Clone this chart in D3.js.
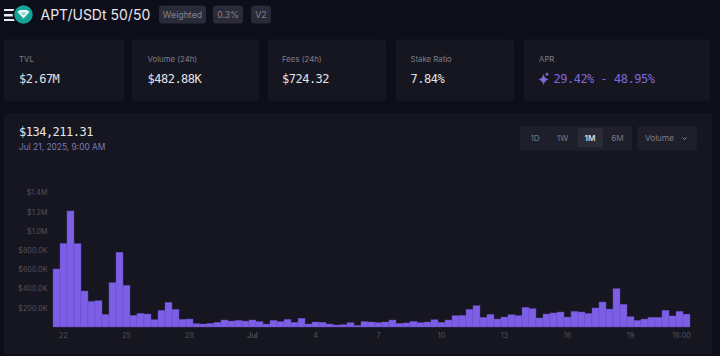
<!DOCTYPE html>
<html>
<head>
<meta charset="utf-8">
<script src="https://cdn.jsdelivr.net/npm/d3@7"></script>
<style>
html, body { margin: 0; padding: 0; background: #0e0e1a; overflow: hidden; }
text { font-family: Inter, "Noto Sans", sans-serif; }
.mono { font-family: "DejaVu Sans Mono", monospace; letter-spacing: -0.5px; }
.y-axis path, .y-axis line, .x-axis path, .x-axis line { display: none; }
.y-axis text, .x-axis text { font-family: Inter, sans-serif; font-size: 7.2px; fill: #52525e; }
</style>
</head>
<body>
<div id="chart"></div>
<script>
// volume per 8h bar, in $K
var volumes = [604, 871, 1208, 868, 375, 267, 274, 132, 461, 778, 434, 121, 142, 135, 76, 174, 257, 184, 80, 83, 35, 31, 38, 49, 73, 62, 69,
    62, 73, 56, 31, 69, 56, 80, 49, 90, 31, 52, 49, 31, 21, 24, 45, 17, 56, 52, 45, 52, 73, 38, 42, 59, 45, 52, 76, 49, 73, 118, 121, 184, 222,
    101, 132, 83, 104, 128, 118, 205, 191, 94, 135, 146, 156, 104, 163, 156, 142, 198, 260, 187, 399, 236, 108, 69, 83, 101, 101, 174, 115, 163, 134];
var xTickBars = [1, 10, 19, 28, 37, 46, 55, 64, 73, 82, 90];
var xTickLabels = ["22", "25", "28", "Jul", "4", "7", "10", "13", "16", "19", "16:00"];
var yTicks = [200, 400, 600, 800, 1000, 1200, 1400];

var badges = ["Weighted", "0.3%", "V2"];
var statLabels = ["TVL", "Volume (24h)", "Fees (24h)", "Stake Ratio", "APR"];
var statValues = ["$2.67M", "$482.88K", "$724.32", "7.84%", "29.42% - 48.95%"];
var ranges = ["1D", "1W", "1M", "6M"];

var svg = d3.select("#chart").append("svg")
    .attr("width", 720)
    .attr("height", 356)
    .style("display", "block");

svg.append("rect").attr("width", 720).attr("height", 356).attr("fill", "#0e0e1a");

// header
var logo = svg.append("g");
[[13, 2], [11, 2.500], [13, 2]].forEach(function(d, i) {
    logo.append("rect").attr("x", 4).attr("y", 9 + i * 5).attr("width", d[0]).attr("height", d[1]).attr("fill", "#ececf2");
});
logo.append("circle").attr("cx", 23.5).attr("cy", 14.5).attr("r", 10).attr("fill", "#14a396")
    .attr("stroke", "#0e0e1a").attr("stroke-width", 1.5);
logo.append("path").attr("d", "M17.500 12 L20 10 L27 10 L29.500 12 L23.500 18.500 Z").attr("fill", "#e6f7f5");
logo.append("path").attr("d", "M20.500 12.500 L26.500 12.500 L23.500 15.500 Z").attr("fill", "#7fd3ca");

svg.append("text").attr("x", 40.5).attr("y", 19.5)
    .attr("font-size", 14).attr("fill", "#e6e6ec").text("APT/USDt 50/50");

var badgeX = [159, 213, 251];
var badgeW = [47, 30, 20];
badges.forEach(function(b, i) {
    svg.append("rect").attr("x", badgeX[i]).attr("y", 5.5).attr("width", badgeW[i]).attr("height", 18)
        .attr("rx", 3).attr("fill", "#2a2a38");
    svg.append("text").attr("x", badgeX[i] + badgeW[i] / 2).attr("y", 17.5)
        .attr("text-anchor", "middle").attr("font-size", 8.8).attr("fill", "#82828e").text(b);
});

// stat cards
var cardX = [4, 132, 268, 396, 524];
var cardW = [120, 127, 118, 118, 186];
var textX = [19, 147.5, 282, 410.5, 539];
statLabels.forEach(function(s, i) {
    svg.append("rect").attr("x", cardX[i]).attr("y", 39.5).attr("width", cardW[i]).attr("height", 61.5)
        .attr("rx", 3).attr("fill", "#161620");
    svg.append("text").attr("x", textX[i]).attr("y", 62)
        .attr("font-size", 7.8).attr("fill", "#7d7d88").text(s);
    svg.append("text").attr("class", "mono").attr("x", i === 4 ? 553.5 : textX[i]).attr("y", 83)
        .attr("font-size", 12)
        .attr("fill", i === 4 ? "#8168d8" : "#e2e2e8").text(statValues[i]);
});
// sparkle next to the APR
svg.append("path")
    .attr("d", "M543.500 74 Q544.500 78.500 548.500 79.500 Q544.500 80.500 543.500 85 Q542.500 80.500 538.500 79.500 Q542.500 78.500 543.500 74 Z M547 72 Q547.500 73.800 549 74.300 Q547.500 74.800 547 76.600 Q546.500 74.800 545 74.300 Q546.500 73.800 547 72 Z")
    .attr("fill", "#8168d8");

// chart panel
svg.append("rect").attr("x", 4).attr("y", 113).attr("width", 708).attr("height", 241)
    .attr("rx", 3).attr("fill", "#161620");

svg.append("text").attr("class", "mono").attr("x", 19).attr("y", 136)
    .attr("font-size", 12).attr("fill", "#e6e6ec").text("$134,211.31");
svg.append("text").attr("x", 19).attr("y", 149.7)
    .attr("font-size", 8.4).attr("fill", "#7f79b5").text("Jul 21, 2025, 9:00 AM");

// range selector
svg.append("rect").attr("x", 520).attr("y", 126).attr("width", 112).attr("height", 24.5)
    .attr("rx", 3).attr("fill", "#1f1f2b");
svg.append("rect").attr("x", 578).attr("y", 128).attr("width", 25).attr("height", 19.5)
    .attr("rx", 2).attr("fill", "#2b2b38");
var rangeX = [535, 562.500, 590, 617.500];
ranges.forEach(function(r, i) {
    svg.append("text").attr("x", rangeX[i]).attr("y", 141)
        .attr("text-anchor", "middle").attr("font-size", 8.2)
        .attr("font-weight", i === 2 ? 600 : 400)
        .attr("fill", i === 2 ? "#d8d8e0" : "#787882").text(r);
});
svg.append("rect").attr("x", 637.5).attr("y", 126).attr("width", 59.5).attr("height", 24.5)
    .attr("rx", 3).attr("fill", "#1f1f2b");
svg.append("text").attr("x", 645).attr("y", 141)
    .attr("font-size", 8.2).attr("fill", "#7d7d88").text("Volume");
svg.append("path").attr("d", "M682.500 137.500 L684.500 139.500 L686.500 137.500")
    .attr("fill", "none").attr("stroke", "#8a8a95").attr("stroke-width", 1);

// bars + axes
var margin = { left: 53, right: 30, top: 180, bottom: 29 };

var x = d3.scaleBand()
    .domain(d3.range(volumes.length))
    .range([margin.left, 720 - margin.right]);

var y = d3.scaleLinear()
    .domain([0, 1400])
    .range([356 - margin.bottom, 192.5]);

svg.append("g").selectAll("rect")
    .data(volumes)
    .enter().append("rect")
    .attr("x", function(d, i) { return x(i); })
    .attr("y", function(d) { return y(d); })
    .attr("width", x.bandwidth())
    .attr("height", function(d) { return y(0) - y(d); })
    .attr("fill", "#7d5fe6")
    .attr("stroke", "#6248bb")
    .attr("stroke-width", 0.4);

function moneyK(d) {
    return d >= 1000 ? "$" + (d / 1000).toFixed(1) + "M" : "$" + d.toFixed(1) + "K";
}

var yAxisg = svg.append("g")
    .attr("class", "y-axis")
    .attr("transform", "translate(47.5,0)")
    .call(d3.axisLeft(y).tickValues(yTicks).tickFormat(moneyK).tickSize(0).tickPadding(0));

var xAxisg = svg.append("g")
    .attr("class", "x-axis")
    .attr("transform", "translate(0," + y(0) + ")")
    .call(d3.axisBottom(x).tickValues(xTickBars)
        .tickFormat(function(d) { return xTickLabels[xTickBars.indexOf(d)]; })
        .tickSize(0).tickPadding(6));

// the last label sits a bit inside the last bar
xAxisg.selectAll("text").filter(function(d) { return d === 90; }).attr("dx", -5);
xAxisg.selectAll("text").filter(function(d) { return d === 28; }).attr("font-weight", 600);
</script>
</body>
</html>
